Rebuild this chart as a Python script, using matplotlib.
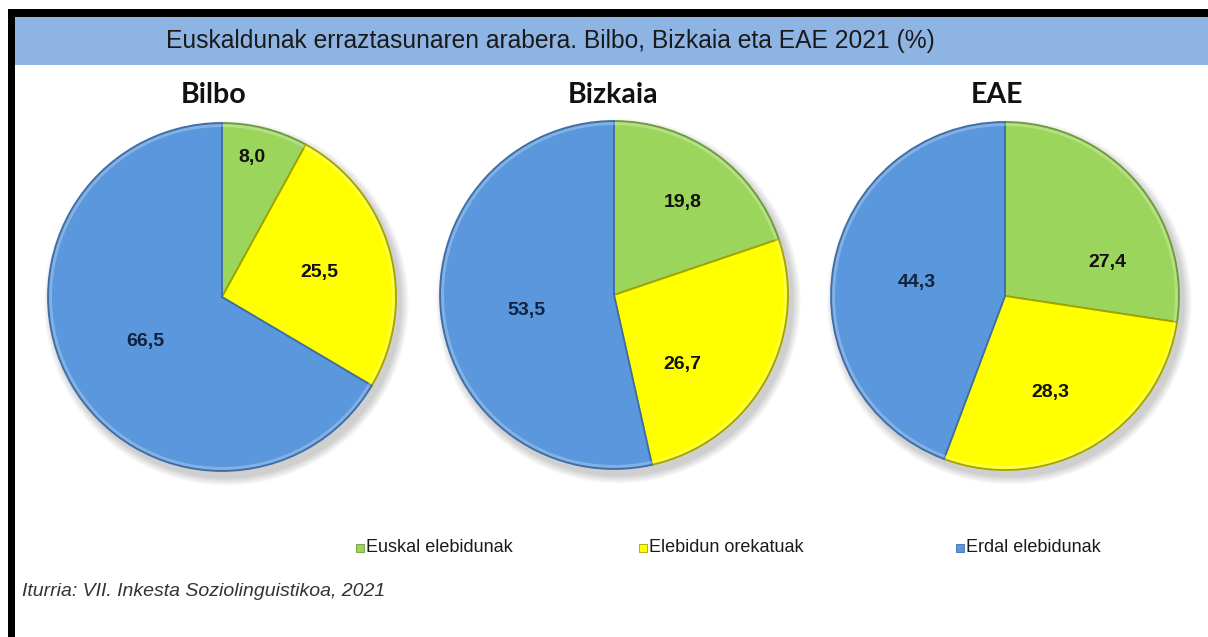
import matplotlib
matplotlib.use('Agg')
import matplotlib.pyplot as plt
from matplotlib.patches import Rectangle, Circle
import numpy as np

# ---------------- data ----------------
categories = ['Euskal elebidunak', 'Elebidun orekatuak', 'Erdal elebidunak']
regions = ['Bilbo', 'Bizkaia', 'EAE']
bilbo = [8.0, 25.5, 66.5]
bizkaia = [19.8, 26.7, 53.5]
eae = [27.4, 28.3, 44.3]
series = [bilbo, bizkaia, eae]
title = 'Euskaldunak erraztasunaren arabera. Bilbo, Bizkaia eta EAE 2021 (%)'
source = 'Iturria: VII. Inkesta Soziolinguistikoa, 2021'

# ---------------- style ----------------
colors = ['#9BD55C', '#FFFF00', '#5B97DC']
edges = ['#6E9A3D', '#A3A300', '#3E6EA6']
label_colors = ['#111111', '#111111', '#14213D']
# label placement (radial fraction, angular offset from wedge middle, deg)
label_r = [[0.82, 0.58, 0.51], [0.66, 0.56, 0.51], [0.62, 0.61, 0.51]]
label_dt = [[2.2, -1.0, 0.6], [-0.9, -16.5, 3.5], [-22.4, -5.3, 1.8]]

W, H = 1208, 637
fig = plt.figure(figsize=(W / 100, H / 100), dpi=100)
fig.patch.set_facecolor('white')


def fr(x0, y0, w, h):
    """pixel box (top-left origin) -> figure fraction rect"""
    return [x0 / W, 1 - (y0 + h) / H, w / W, h / H]


# frame + title band
for (x0, y0, w, h, c) in [(8, 9, 1200, 8, '#000000'),
                          (8, 9, 7, 628, '#000000'),
                          (15, 17, 1193, 48, '#8EB4E3')]:
    b = fr(x0, y0, w, h)
    fig.patches.append(Rectangle((b[0], b[1]), b[2], b[3], transform=fig.transFigure,
                                 facecolor=c, edgecolor='none', zorder=0))
fig.text(550 / W, 1 - 41 / H, title, ha='center', va='center',
         fontsize=17.7, family='Liberation Sans', color='#1a1a1a')

centers = [(222, 297), (614, 295), (1005, 296)]
title_x = [214, 613, 997]
R = 174
half = 200
for i, (vals, name, (cx, cy)) in enumerate(zip(series, regions, centers)):
    ax = fig.add_axes(fr(cx - half, cy - half, 2 * half, 2 * half))
    # soft shadow
    for k in range(8):
        ax.add_patch(Circle((0.025, -0.035), 1.0 + 0.006 * (8 - k), facecolor='black',
                            alpha=0.025, edgecolor='none', zorder=0))
    wedges, _ = ax.pie(vals, colors=colors, startangle=90, counterclock=False,
                       radius=1.0, wedgeprops=dict(linewidth=1.3))
    ax.set_xlim(-half / R, half / R)
    ax.set_ylim(-half / R, half / R)
    ax.set_aspect('equal')
    ax.axis('off')
    for w, ec in zip(wedges, edges):
        w.set_edgecolor(ec)
        w.set_zorder(2)
    # rim highlight (bevel)
    ax.add_patch(Circle((0, 0), 0.985, facecolor='none', edgecolor='white',
                        linewidth=2.0, alpha=0.25, zorder=3))
    for j, (w, v) in enumerate(zip(wedges, vals)):
        mid = np.deg2rad((w.theta1 + w.theta2) / 2 + label_dt[i][j])
        rr = label_r[i][j]
        ax.text(rr * np.cos(mid), rr * np.sin(mid), f'{v:.1f}'.replace('.', ','),
                ha='center', va='center', fontsize=14, fontweight='bold',
                family='Liberation Sans', color=label_colors[j], zorder=5)
    fig.text(title_x[i] / W, 1 - 95 / H, name, ha='center', va='center',
             fontsize=20.5, fontweight='bold', family='Lato', color='#111111')

# legend (manual, Excel style)
leg_x = [356, 639, 956]
leg_y = 548
for c, ec, lab, x in zip(colors, edges, categories, leg_x):
    b = fr(x, leg_y - 4, 8, 8)
    fig.patches.append(Rectangle((b[0], b[1]), b[2], b[3], transform=fig.transFigure,
                                 facecolor=c, edgecolor=ec, linewidth=0.6, zorder=3))
    fig.text((x + 10) / W, 1 - leg_y / H, lab, ha='left', va='center', fontsize=13,
             family='Liberation Sans', color='#1a1a1a')

fig.text(22 / W, 1 - 591 / H, source, ha='left', va='center', fontsize=14,
         family='Liberation Sans', style='italic', color='#333333')

fig.savefig('out.png', dpi=100, facecolor='white')
